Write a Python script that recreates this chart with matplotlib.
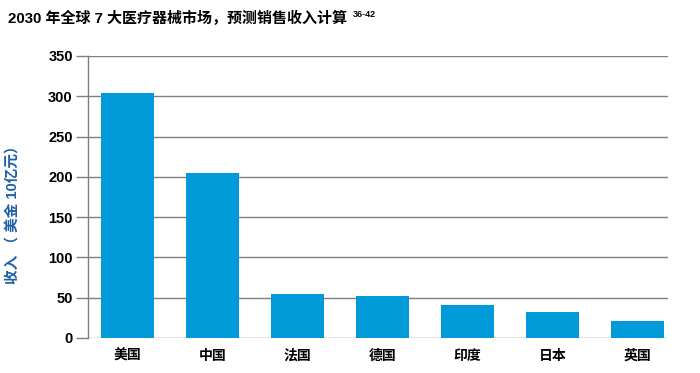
import matplotlib
matplotlib.use("Agg")
import matplotlib.pyplot as plt
import numpy as np

plt.rcParams['font.family'] = ['Liberation Sans', 'Noto Sans CJK SC', 'DejaVu Sans']

countries = ["美国", "中国", "法国", "德国", "印度", "日本", "英国"]
revenue = [304, 205, 55, 52.5, 41, 32.5, 21]
yticks = [0, 50, 100, 150, 200, 250, 300, 350]

bar_color = "#009ad9"
grid_color = "#7f7f7f"
label_blue = "#1f5fa6"

fig = plt.figure(figsize=(7, 3.73), dpi=100)
ax = fig.add_axes([0.1257, 0.094, 0.8286, 0.756])

x = np.arange(len(countries))
ax.bar(x, revenue, width=0.62, color=bar_color, zorder=3)

ax.set_ylim(0, 350)
ax.set_xlim(-0.465, 6.36)
ax.set_yticks(yticks)
ax.set_yticklabels([str(t) for t in yticks], fontsize=10.5, fontweight="bold")
ax.set_xticks(x)
ax.set_xticklabels(countries, fontsize=10, fontweight="bold")

ax.yaxis.grid(True, color=grid_color, linewidth=1.0, zorder=0)
for s in ["top", "right", "bottom"]:
    ax.spines[s].set_visible(False)
ax.spines["left"].set_color(grid_color)
ax.spines["left"].set_linewidth(1.0)
ax.tick_params(axis="y", length=9, width=1.0, color=grid_color, pad=2)
ax.tick_params(axis="x", length=0, pad=8)

# y label placed by hand, a bit below the axis centre like the original
fig.text(13 / 700, 1 - 211 / 373, "收入 （ 美金 10亿元）", color=label_blue,
         fontsize=10.5, fontweight="bold", rotation=90, ha="center", va="center")

fig.text(0.011, 0.950, "2030 年全球 7 大医疗器械市场，预测销售收入计算",
         fontsize=10.8, fontweight="bold", ha="left", va="center")
fig.text(353 / 700, 0.960, "36-42", fontsize=6.5, fontweight="bold",
         ha="left", va="center")

fig.savefig("out.png", dpi=100)
